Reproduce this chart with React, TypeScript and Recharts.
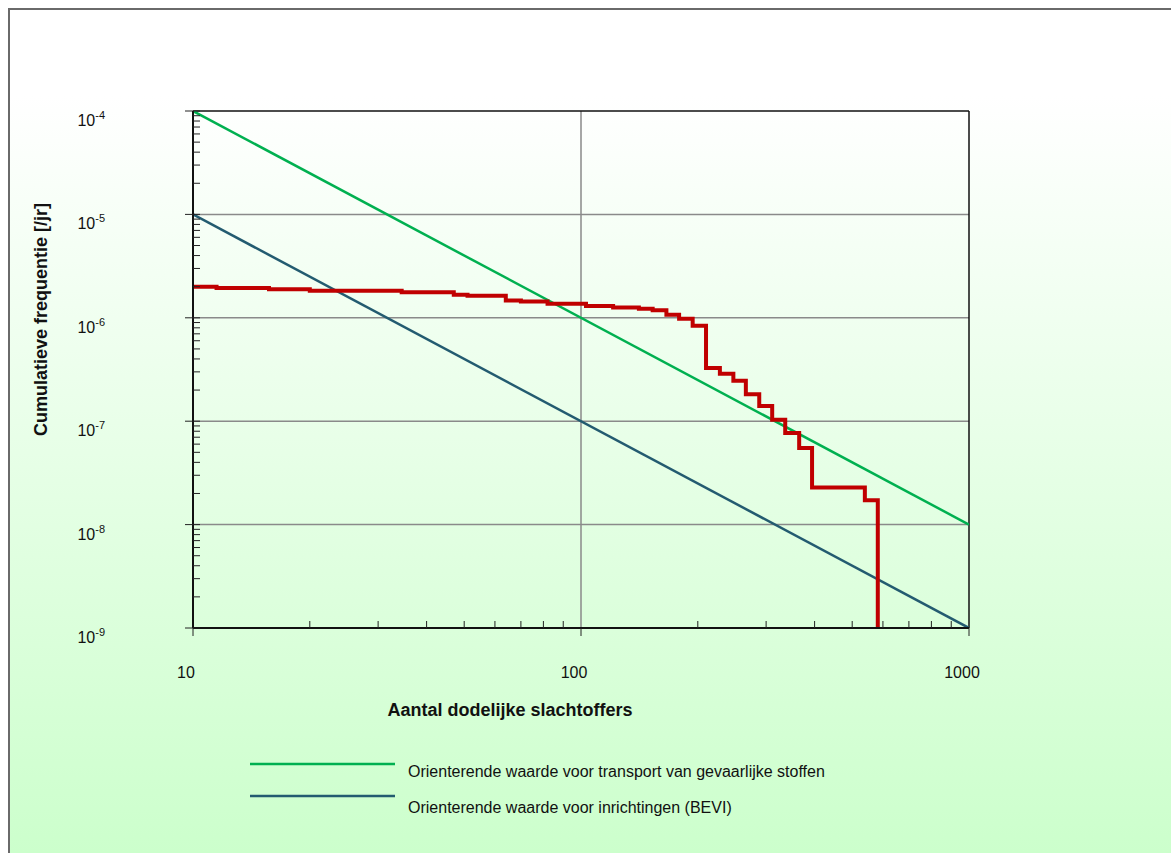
import React from 'react';
import { LineChart, Line, XAxis, YAxis, ReferenceLine } from 'recharts';

// FN-curve: cumulative frequency vs number of fatalities (log-log)
const FONT = '"Liberation Sans", Arial, Helvetica, sans-serif';

const redN = [10, 11.5, 15.7, 20, 34.5, 47, 51, 64, 70, 82, 103, 121, 141, 153, 166, 179, 194, 210, 228, 247, 266, 288, 311, 336, 365, 394, 539, 582];
const redF = [2.0e-6, 1.94e-6, 1.89e-6, 1.83e-6, 1.77e-6, 1.67e-6, 1.63e-6, 1.47e-6, 1.44e-6, 1.37e-6, 1.3e-6, 1.26e-6, 1.22e-6, 1.18e-6, 1.07e-6, 9.8e-7, 8.4e-7, 3.27e-7, 2.88e-7, 2.46e-7, 1.82e-7, 1.4e-7, 1.03e-7, 7.7e-8, 5.5e-8, 2.28e-8, 1.72e-8, 1e-9];

const transportN = [10, 1000];
const transportF = [1e-4, 1e-8];
const beviN = [10, 1000];
const beviF = [1e-5, 1e-9];

const legendNames = [
  'Orienterende waarde voor transport van gevaarlijke stoffen',
  'Orienterende waarde voor inrichtingen (BEVI)',
];

const mantissas = [1, 2, 3, 4, 5, 6, 7, 8, 9];
const xDecades = [10, 100];
const yDecades = [1e-9, 1e-8, 1e-7, 1e-6, 1e-5];
const xTicks = [...xDecades.flatMap((d) => mantissas.map((m) => m * d)), 1000];
const yTicks = [...yDecades.flatMap((d) => mantissas.map((m) => m * d)), 1e-4];
const yGrid = [1e-5, 1e-6, 1e-7, 1e-8];
const xGrid = [100];

const toRows = (ns: number[], fs: number[]) => ns.map((n, i) => ({ n, f: fs[i] }));
const redData = toRows(redN, redF);
const transportData = toRows(transportN, transportF);
const beviData = toRows(beviN, beviF);

const GREEN = '#00b050';
const BLUE = '#235b70';
const RED = '#c00000';

const isMajor = (v: number) => {
  const l = Math.log10(v);
  return Math.abs(l - Math.round(l)) < 1e-6;
};

const YTick = (props: any) => {
  const { x, y, payload } = props;
  const major = isMajor(payload.value);
  const exp = Math.round(Math.log10(payload.value));
  return (
    <g>
      <line x1={major ? x - 8 : x} x2={x + 7} y1={y} y2={y} stroke="#222" strokeWidth={1} />
      {major && (
        <text x={x - 88} y={y + 15} textAnchor="end" fontSize={16} fill="#111" fontFamily={FONT}>
          10<tspan dy={-7} fontSize={11}>{String(exp)}</tspan>
        </text>
      )}
    </g>
  );
};

const XTick = (props: any) => {
  const { x, y, payload } = props;
  const major = isMajor(payload.value);
  return (
    <g>
      <line x1={x} x2={x} y1={major ? y : y - 7} y2={major ? y + 8 : y} stroke="#222" strokeWidth={1} />
      {major && (
        <text x={x - 7} y={y + 50} textAnchor="middle" fontSize={16} fill="#111" fontFamily={FONT}>
          {payload.value}
        </text>
      )}
    </g>
  );
};

const YLabel = (props: any) => {
  const { viewBox } = props;
  const cx = viewBox.x + 31;
  const cy = viewBox.y + viewBox.height / 2 - 50;
  return (
    <text x={cx} y={cy} transform={`rotate(-90 ${cx} ${cy})`} textAnchor="middle" dominantBaseline="central"
      fontSize={18} fontWeight="bold" fill="#111" fontFamily={FONT}>
      Cumulatieve frequentie [/jr]
    </text>
  );
};

const XLabel = (props: any) => {
  const { viewBox } = props;
  return (
    <text x={viewBox.x + viewBox.width / 2 - 71} y={viewBox.y + 88} textAnchor="middle"
      fontSize={18} fontWeight="bold" fill="#111" fontFamily={FONT}>
      Aantal dodelijke slachtoffers
    </text>
  );
};

const FnLegend = () => (
  <svg width={1161} height={843} style={{ position: 'absolute', left: 0, top: 0, pointerEvents: 'none' }}>
    <line x1={240} x2={385} y1={754} y2={754} stroke={GREEN} strokeWidth={2.5} />
    <line x1={240} x2={385} y1={786} y2={786} stroke={BLUE} strokeWidth={2.5} />
    <text x={398} y={767} fontSize={16} fill="#111" fontFamily={FONT}>{legendNames[0]}</text>
    <text x={398} y={803} fontSize={16} fill="#111" fontFamily={FONT}>{legendNames[1]}</text>
  </svg>
);

export default function App() {
  return (
    <>
      <style>{'html, body { overflow: hidden; }'}</style>
      <div
        style={{
          position: 'absolute',
          left: 8,
          top: 8,
          width: 1180,
          height: 860,
          borderLeft: '2px solid #6a6a6a',
          borderTop: '2px solid #6a6a6a',
          background: 'linear-gradient(to bottom, #ffffff 0%, #ffffff 10%, #ccffcc 98%)',
          overflow: 'hidden',
        }}
      >
        <LineChart width={1161} height={843} margin={{ top: 101, right: 202, left: 0, bottom: 105 }}>
          <XAxis
            dataKey="n"
            type="number"
            scale="log"
            domain={[10, 1000]}
            allowDataOverflow
            ticks={xTicks}
            interval={0}
            tickLine={false}
            tickSize={0}
            tickMargin={0}
            tick={<XTick />}
            height={120}
            axisLine={{ stroke: '#111', strokeWidth: 2 }}
            label={<XLabel />}
          />
          <YAxis
            type="number"
            scale="log"
            domain={[1e-9, 1e-4]}
            allowDataOverflow
            ticks={yTicks}
            interval={0}
            tickLine={false}
            tickSize={0}
            tickMargin={0}
            tick={<YTick />}
            width={183}
            axisLine={{ stroke: '#111', strokeWidth: 2 }}
            label={<YLabel />}
          />
          {yGrid.map((v) => (
            <ReferenceLine key={`gy-${v}`} y={v} stroke="#8a8a8a" strokeWidth={1.5} />
          ))}
          {xGrid.map((v) => (
            <ReferenceLine key={`gx-${v}`} x={v} stroke="#8a8a8a" strokeWidth={1.5} />
          ))}
          <ReferenceLine y={1e-4} stroke="#111" strokeWidth={1.5} />
          <ReferenceLine x={1000} stroke="#111" strokeWidth={1.5} />
          <Line data={transportData} dataKey="f" type="linear" stroke={GREEN} strokeWidth={2.5} dot={false} isAnimationActive={false} />
          <Line data={beviData} dataKey="f" type="linear" stroke={BLUE} strokeWidth={2.5} dot={false} isAnimationActive={false} />
          <Line data={redData} dataKey="f" type="stepAfter" stroke={RED} strokeWidth={4} dot={false} isAnimationActive={false} />
        </LineChart>
        <FnLegend />
      </div>
    </>
  );
}
